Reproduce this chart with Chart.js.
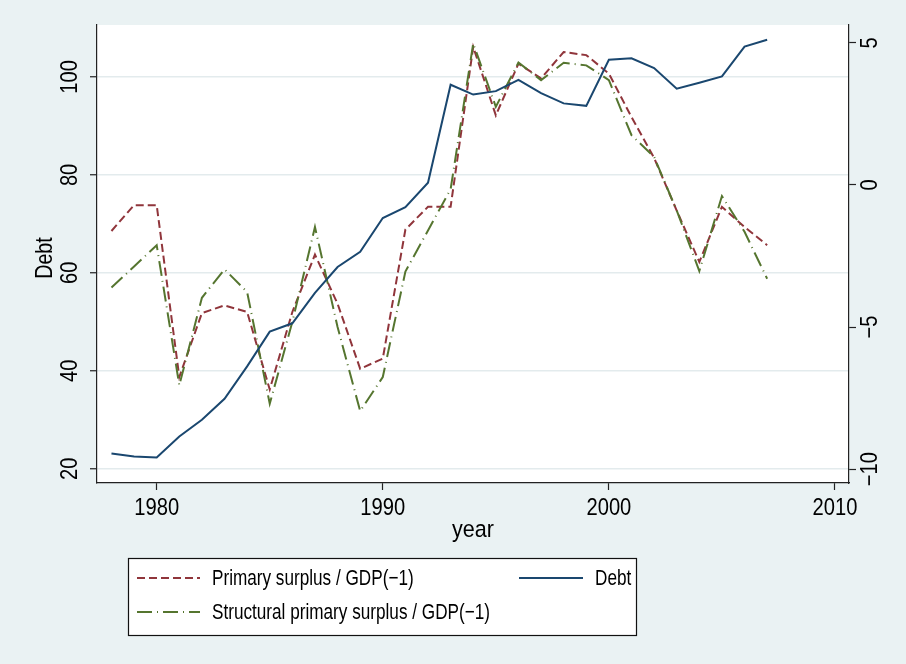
<!DOCTYPE html>
<html>
<head>
<meta charset="utf-8">
<script src="https://cdn.jsdelivr.net/npm/chart.js@4.4.1/dist/chart.umd.min.js"></script>
<style>
  html, body { margin: 0; padding: 0; background: #EAF2F3; }
  #wrap { width: 906px; height: 664px; }
</style>
</head>
<body>
<div id="wrap"><canvas id="c" width="906" height="664"></canvas></div>
<script>
// Years of observation
const years = [1978, 1979, 1980, 1981, 1982, 1983, 1984, 1985, 1986, 1987,
               1988, 1989, 1990, 1991, 1992, 1993, 1994, 1995, 1996, 1997,
               1998, 1999, 2000, 2001, 2002, 2003, 2004, 2005, 2006, 2007];

// Debt (left axis)
const debt = [23.1, 22.5, 22.3, 26.6, 30.0, 34.3, 40.9, 48.0, 49.7, 55.9,
              61.2, 64.3, 71.2, 73.4, 78.4, 98.4, 96.4, 97.1, 99.4, 96.7,
              94.6, 94.1, 103.5, 103.8, 101.8, 97.6, 98.8, 100.1, 106.2, 107.6];

// Primary surplus / GDP(-1) (right axis)
const primarySurplus = [-1.62, -0.71, -0.71, -6.76, -4.51, -4.24, -4.47, -7.20, -4.47, -2.45,
                        -4.18, -6.47, -6.11, -1.57, -0.77, -0.77, 4.86, 2.45, 4.27, 3.75,
                        4.68, 4.57, 3.92, 2.39, 0.95, -0.90, -2.71, -0.77, -1.48, -2.12];

// Structural primary surplus / GDP(-1) (right axis)
const structuralSurplus = [-3.61, -2.87, -2.12, -7.05, -3.97, -2.97, -3.77, -7.70, -4.82, -1.48,
                           -5.00, -7.96, -6.76, -3.05, -1.60, -0.15, 4.98, 2.75, 4.31, 3.69,
                           4.30, 4.21, 3.69, 1.75, 0.99, -0.90, -3.03, -0.39, -1.65, -3.30];

// Tick labels
const yearTicks = [1980, 1990, 2000, 2010];
const debtTicks = [20, 40, 60, 80, 100];
const surplusTicks = [-10, -5, 0, 5];

const seriesLabels = ['Primary surplus / GDP(\u22121)', 'Debt', 'Structural primary surplus / GDP(\u22121)'];
const xTitle = 'year';
const yTitle = 'Debt';

const FONT = "'Liberation Sans', Arial, Helvetica, sans-serif";
const TEXT = '#000';
const BG = '#EAF2F3';
const GRID = '#E3EBED';

// Condensed text styles (size in px, horizontal squeeze)
const TICK_STYLE = { size: 24, sx: 0.84 };
const XTITLE_STYLE = { size: 24.5, sx: 0.88 };
const YTITLE_STYLE = { size: 24, sx: 0.82 };
const LEGEND_STYLE = { size: 22, sx: 0.78 };

const pairs = vals => years.map((y, i) => ({ x: y, y: vals[i] }));
const fmt = v => String(v).replace('-', '\u2212');

function drawText(ctx, str, x, y, style, opts) {
  const o = Object.assign({ rot: 0, align: 'center', baseline: 'alphabetic' }, opts || {});
  ctx.save();
  ctx.translate(x, y);
  ctx.rotate(o.rot);
  ctx.scale(style.sx, 1);
  ctx.font = style.size + 'px ' + FONT;
  ctx.fillStyle = TEXT;
  ctx.textAlign = o.align;
  ctx.textBaseline = o.baseline;
  ctx.fillText(str, 0, 0);
  ctx.restore();
}

// Page background and white plot region
const backdrop = {
  id: 'backdrop',
  beforeDraw(chart) {
    const { ctx, chartArea: a } = chart;
    ctx.save();
    ctx.fillStyle = BG;
    ctx.fillRect(0, 0, chart.width, chart.height);
    ctx.fillStyle = '#fff';
    ctx.fillRect(a.left, a.top, a.right - a.left, a.bottom - a.top);
    ctx.restore();
  }
};

// Tick labels and axis titles
const axisText = {
  id: 'axisText',
  afterDraw(chart) {
    const { ctx } = chart;
    const { x, y, y1 } = chart.scales;
    const up = -Math.PI / 2;
    x.ticks.forEach((t, i) => {
      drawText(ctx, String(t.value), x.getPixelForTick(i), x.top + 32, TICK_STYLE);
    });
    y.ticks.forEach((t, i) => {
      drawText(ctx, fmt(t.value), y.right - 20, y.getPixelForTick(i), TICK_STYLE, { rot: up });
    });
    y1.ticks.forEach((t, i) => {
      drawText(ctx, fmt(t.value), y1.left + 28, y1.getPixelForTick(i), TICK_STYLE, { rot: up });
    });
    const a = chart.chartArea;
    drawText(ctx, xTitle, (a.left + a.right) / 2, 537, XTITLE_STYLE);
    drawText(ctx, yTitle, 52, (a.top + a.bottom) / 2 + 4, YTITLE_STYLE, { rot: up });
  }
};

// Boxed legend below the plot
const boxedLegend = {
  id: 'boxedLegend',
  afterDraw(chart) {
    const { ctx } = chart;
    const ds = chart.data.datasets;
    ctx.save();
    ctx.fillStyle = '#fff';
    ctx.fillRect(128, 558, 508, 77);
    ctx.strokeStyle = '#111';
    ctx.lineWidth = 1.2;
    ctx.strokeRect(128.5, 558.5, 508, 77);

    const key = (d, x0, x1, yk, label, tx) => {
      ctx.save();
      ctx.strokeStyle = d.borderColor;
      ctx.lineWidth = d.borderWidth;
      ctx.setLineDash(d.borderDash || []);
      ctx.beginPath();
      ctx.moveTo(x0, yk);
      ctx.lineTo(x1, yk);
      ctx.stroke();
      ctx.restore();
      drawText(ctx, label, tx, yk + 7, LEGEND_STYLE, { align: 'left' });
    };
    key(ds[0], 137, 200, 578, ds[0].label, 212);
    key(ds[1], 519, 583, 578, ds[1].label, 595);
    key(ds[2], 137, 200, 612, ds[2].label, 212);
    ctx.restore();
  }
};

new Chart(document.getElementById('c'), {
  type: 'line',
  data: {
    datasets: [
      {
        label: seriesLabels[0],
        data: pairs(primarySurplus),
        yAxisID: 'y1',
        borderColor: '#90353B',
        borderWidth: 2,
        borderDash: [8, 4],
        order: 3
      },
      {
        label: seriesLabels[1],
        data: pairs(debt),
        yAxisID: 'y',
        borderColor: '#1A476F',
        borderWidth: 2,
        order: 1
      },
      {
        label: seriesLabels[2],
        data: pairs(structuralSurplus),
        yAxisID: 'y1',
        borderColor: '#55752F',
        borderWidth: 2,
        borderDash: [15, 5, 1, 5],
        order: 2
      }
    ]
  },
  options: {
    responsive: false,
    animation: false,
    devicePixelRatio: 1,
    layout: { padding: { top: 25, left: 0, right: 0, bottom: 121 } },
    elements: { point: { radius: 0 }, line: { tension: 0, fill: false } },
    plugins: { legend: { display: false }, tooltip: { enabled: false } },
    scales: {
      x: {
        type: 'linear',
        min: 1977.36,
        max: 2010.62,
        afterBuildTicks: s => { s.ticks = yearTicks.map(v => ({ value: v })); },
        afterFit: s => { s.height = 60; },
        ticks: { display: false },
        grid: { drawOnChartArea: false, drawTicks: true, tickLength: 7, tickColor: '#222', tickWidth: 1.2 },
        border: { color: '#222', width: 1.2 }
      },
      y: {
        position: 'left',
        min: 17.1,
        max: 110.6,
        afterBuildTicks: s => { s.ticks = debtTicks.map(v => ({ value: v })); },
        afterFit: s => { s.width = 97; },
        ticks: { display: false },
        grid: { color: GRID, lineWidth: 1.5, drawTicks: true, tickLength: 7, tickColor: '#222', tickWidth: 1.2 },
        border: { color: '#222', width: 1.2 }
      },
      y1: {
        position: 'right',
        min: -10.49,
        max: 5.63,
        afterBuildTicks: s => { s.ticks = surplusTicks.map(v => ({ value: v })); },
        afterFit: s => { s.width = 57; },
        ticks: { display: false },
        grid: { drawOnChartArea: false, drawTicks: true, tickLength: 7, tickColor: '#222', tickWidth: 1.2 },
        border: { color: '#222', width: 1.2 }
      }
    }
  },
  plugins: [backdrop, axisText, boxedLegend]
});
</script>
</body>
</html>
